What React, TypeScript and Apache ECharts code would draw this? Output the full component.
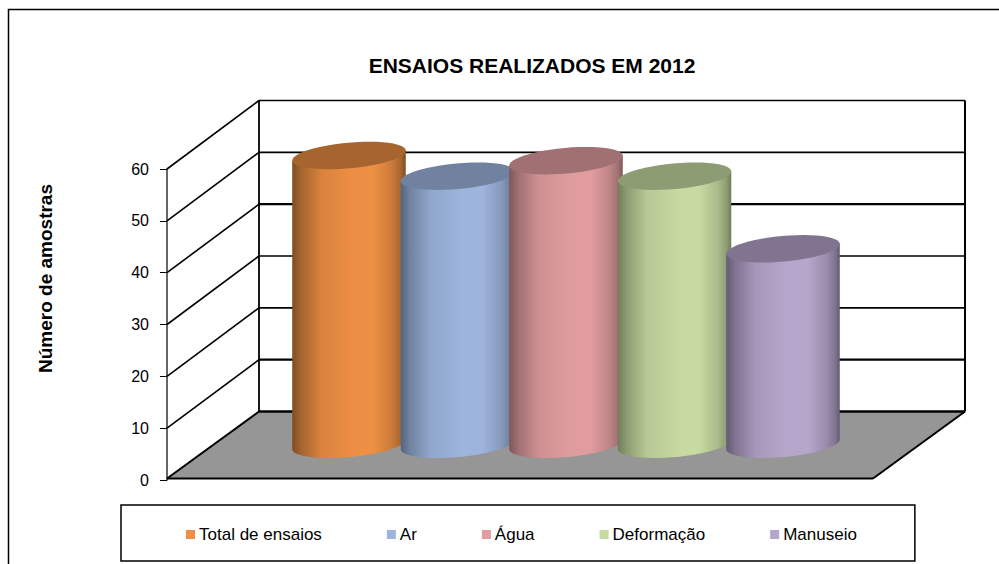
import React, { useEffect, useRef } from "react";
import * as echarts from "echarts";

const categories = ["Total de ensaios", "Ar", "Água", "Deformação", "Manuseio"];
const values = [56, 52, 55, 52, 38];
const baseColors = ["#ED8F44", "#9DB4DC", "#E09C9E", "#C6DAA1", "#B5A6CB"];
const topColors = ["#A6652F", "#70829F", "#A07072", "#8D9C72", "#807490"];
const edgeColors = ["#7F4E22", "#55647F", "#7F5658", "#707C58", "#645A73"];
const yTicks = [0, 10, 20, 30, 40, 50, 60];
const title = "ENSAIOS REALIZADOS EM 2012";
const yName = "Número de amostras";

const DX = 92;
const DY = -68.5;
const SLOT = 0.1537;
const RX = 57;
const RY = 12.8;
const TILT = (-5.2 * Math.PI) / 180;
const heavyLines = [10, 40];

function ellipsePoint(cx: number, cy: number, t: number) {
  const ex = RX * Math.cos(t);
  const ey = RY * Math.sin(t);
  return [cx + ex * Math.cos(TILT) - ey * Math.sin(TILT), cy + ex * Math.sin(TILT) + ey * Math.cos(TILT)];
}

function ellipseArc(cx: number, cy: number, from: number, to: number) {
  const points: number[][] = [];
  for (let k = 0; k <= 48; k++) points.push(ellipsePoint(cx, cy, from + ((to - from) * k) / 48));
  return points;
}

function renderWall(params: any, api: any) {
  const tick = api.value(1);
  const [x0, y] = api.coord([0, tick]);
  const width = api.size([1, 0])[0];
  const xStart = x0 - width / 2;
  const line = (x1: number, y1: number, x2: number, y2: number, w = 1.6) => ({
    type: "line",
    shape: { x1, y1, x2, y2 },
    style: { stroke: "#000", lineWidth: w },
  });
  const children: any[] = [];
  if (tick === 0) {
    const [, top] = api.coord([0, 60]);
    children.push({
      type: "polygon",
      shape: { points: [[xStart, y - 1.5], [xStart + DX, y + DY], [xStart + width + DX, y + DY], [xStart + width, y - 1.5]] },
      style: { fill: "#969696", stroke: "none" },
    });
    children.push(line(xStart, y - 1.5, xStart + width, y - 1.5, 2));
    children.push(line(xStart + width, y - 1.5, xStart + width + DX, y + DY, 2));
    children.push(line(xStart + DX, y + DY, xStart + DX, top + DY, 1.8));
    children.push(line(xStart + width + DX, y + DY, xStart + width + DX, top + DY, 2));
    children.push(line(xStart, y - 1.5, xStart + DX, y + DY, 2));
    children.push(line(xStart + DX, y + DY, xStart + width + DX, y + DY, 2.4));
  } else {
    children.push(line(xStart, y, xStart + DX, y + DY));
    children.push(line(xStart + DX, y + DY, xStart + width + DX, y + DY, heavyLines.includes(tick) ? 2.4 : 1.6));
  }
  return { type: "group", children };
}

function cylinderRenderer(index: number) {
  return (params: any, api: any) => {
    const width = api.size([1, 0])[0];
    const [x0, yBase] = api.coord([0, 0]);
    const [, yTop] = api.coord([0, api.value(1)]);
    const cx = x0 + (index - 2) * width * SLOT + DX / 2;
    const cyBase = yBase + DY / 2 - 1.5;
    const cyTop = yTop + DY / 2;
    const body = [
      ellipsePoint(cx, cyTop, Math.PI),
      ...ellipseArc(cx, cyBase, Math.PI, 0),
      ellipsePoint(cx, cyTop, 0),
    ];
    const base = baseColors[index];
    const side = topColors[index];
    const edge = edgeColors[index];
    return {
      type: "group",
      children: [
        {
          type: "polygon",
          shape: { points: body },
          style: {
            fill: new echarts.graphic.LinearGradient(0, 0, 1, 0, [
              { offset: 0, color: edge },
              { offset: 0.08, color: side },
              { offset: 0.26, color: echarts.color.lerp(0.72, [side, base]) },
              { offset: 0.54, color: base },
              { offset: 0.72, color: base },
              { offset: 0.88, color: echarts.color.lerp(0.5, [side, base]) },
              { offset: 0.96, color: side },
              { offset: 1, color: edge },
            ]),
            stroke: "none",
          },
        },
        {
          type: "polygon",
          shape: { points: ellipseArc(cx, cyTop, 0, Math.PI * 2) },
          style: { fill: side, stroke: "none" },
        },
      ],
    };
  };
}

export default function App() {
  const ref = useRef<HTMLDivElement>(null);
  useEffect(() => {
    document.body.style.margin = "0";
    const chart = echarts.init(ref.current!, undefined, { renderer: "svg" });
    chart.setOption({
      animation: false,
      backgroundColor: "#fff",
      title: {
        text: title,
        left: 527,
        top: 50,
        textAlign: "center",
        textStyle: { fontFamily: "Liberation Sans", fontWeight: "bold", fontSize: 21, color: "#000" },
      },
      grid: { left: 167, top: 169, width: 706, height: 311 },
      xAxis: { type: "category", data: ["2012"], show: false },
      yAxis: {
        type: "value",
        min: 0,
        max: 60,
        interval: 10,
        name: yName,
        nameLocation: "middle",
        nameGap: 112,
        nameTextStyle: {
          fontFamily: "Liberation Sans",
          fontWeight: "bold",
          fontSize: 19,
          color: "#000",
          padding: [0, 0, 0, 92],
        },
        axisLine: { show: true, lineStyle: { color: "#333", width: 1.5 } },
        axisTick: { show: true, length: 7, lineStyle: { color: "#000", width: 1 } },
        axisLabel: { margin: 18, fontFamily: "Liberation Sans", fontSize: 16, color: "#000" },
        splitLine: { show: false },
      },
      legend: {
        left: 121,
        top: 505,
        orient: "horizontal",
        data: categories,
        icon: "rect",
        itemWidth: 9,
        itemHeight: 9,
        itemGap: 65,
        padding: [21, 58, 18, 65],
        borderColor: "#000",
        borderWidth: 1.5,
        textStyle: { fontFamily: "Liberation Sans", fontSize: 17, color: "#000", padding: [0, 0, 0, -1] },
      },
      series: [
        {
          type: "custom",
          name: "walls",
          silent: true,
          renderItem: renderWall,
          data: yTicks.map((t) => [0, t]),
          encode: { x: 0, y: 1 },
          z: 1,
        },
        ...categories.map((name, i) => ({
          type: "custom",
          name,
          renderItem: cylinderRenderer(i),
          data: [[0, values[i]]],
          encode: { x: 0, y: 1 },
          itemStyle: { color: baseColors[i] },
          z: 2 + i,
        })),
      ],
      graphic: [
        {
          type: "polyline",
          shape: { points: [[8.5, 564], [8.5, 9.5], [999, 9.5]] },
          style: { fill: "none", stroke: "#000", lineWidth: 1.5 },
          silent: true,
        },
      ],
    });
    return () => chart.dispose();
  }, []);
  return <div ref={ref} style={{ width: 999, height: 564 }} />;
}
